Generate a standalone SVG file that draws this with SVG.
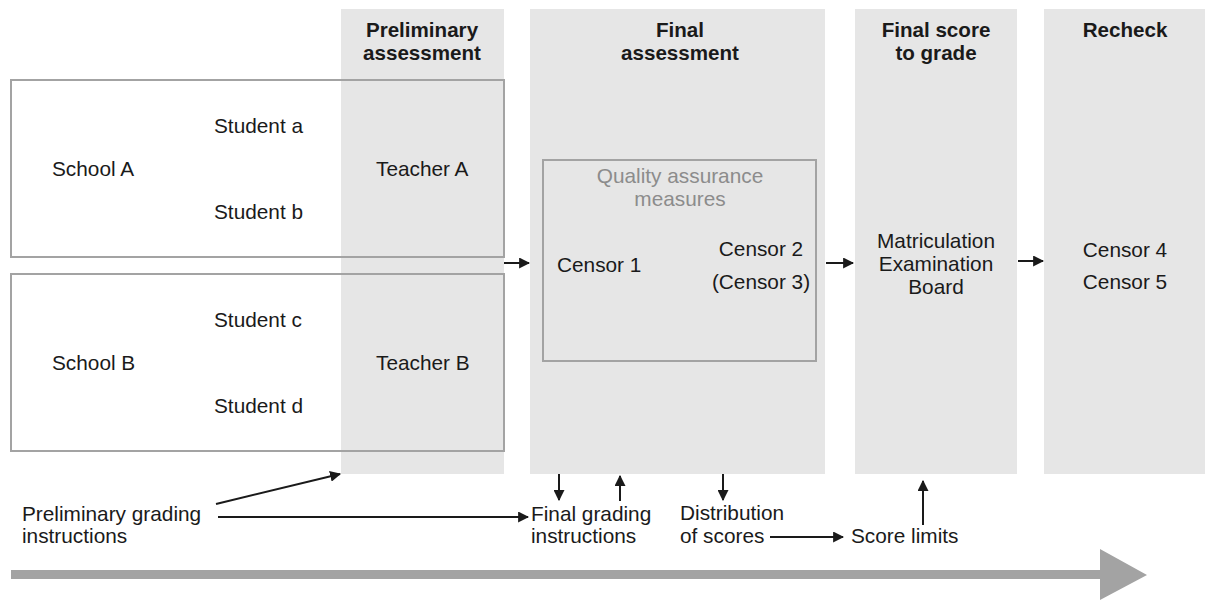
<svg xmlns="http://www.w3.org/2000/svg" width="1205" height="600" viewBox="0 0 1205 600">
<style>
.col{fill:#e6e6e6}
.box{fill:none;stroke:#a3a3a3;stroke-width:2}
text{font-family:"Liberation Sans",Arial,sans-serif;font-size:20.8px;fill:#1a1a1a}
.h{font-weight:bold;text-anchor:middle;font-size:20.6px}
.m{text-anchor:middle}
.q{fill:#8c8c8c}
.c{stroke:#1a1a1a;stroke-width:2;fill:none}
</style>
<defs>
<marker id="ah" viewBox="0 0 10 10" refX="9" refY="5" markerWidth="11" markerHeight="11" markerUnits="userSpaceOnUse" orient="auto">
<path d="M0,0 L10,5 L0,10 z" fill="#1a1a1a"/>
</marker>
</defs>
<rect width="1205" height="600" fill="#fff"/>
<g id="col-preliminary">
<rect class="col" x="341" y="9" width="163" height="465"/>
<text class="h" x="422" y="37">Preliminary</text>
<text class="h" x="422" y="60">assessment</text>
</g>
<g id="col-final">
<rect class="col" x="530" y="9" width="295" height="465"/>
<text class="h" x="680" y="37">Final</text>
<text class="h" x="680" y="60">assessment</text>
</g>
<g id="col-score">
<rect class="col" x="855" y="9" width="162" height="465"/>
<text class="h" x="936" y="37">Final score</text>
<text class="h" x="936" y="60">to grade</text>
<text class="m" x="936" y="248">Matriculation</text>
<text class="m" x="936" y="271">Examination</text>
<text class="m" x="936" y="294">Board</text>
</g>
<g id="col-recheck">
<rect class="col" x="1044" y="9" width="161" height="465"/>
<text class="h" x="1125" y="37">Recheck</text>
<text class="m" x="1125" y="257">Censor 4</text>
<text class="m" x="1125" y="289">Censor 5</text>
</g>
<g id="school-a">
<rect class="box" x="11" y="80" width="493" height="177"/>
<text x="52" y="176">School A</text>
<text x="214" y="133">Student a</text>
<text x="214" y="219">Student b</text>
<text x="376" y="176">Teacher A</text>
</g>
<g id="school-b">
<rect class="box" x="11" y="274" width="493" height="177"/>
<text x="52" y="370">School B</text>
<text x="214" y="327">Student c</text>
<text x="214" y="413">Student d</text>
<text x="376" y="370">Teacher B</text>
</g>
<g id="quality">
<rect class="box" x="543" y="160" width="273" height="201"/>
<text class="m q" x="680" y="183">Quality assurance</text>
<text class="m q" x="680" y="206">measures</text>
<text x="557" y="272">Censor 1</text>
<text class="m" x="761" y="256">Censor 2</text>
<text class="m" x="761" y="289">(Censor 3)</text>
</g>
<g id="prelim-instr">
<text x="22" y="521">Preliminary grading</text>
<text x="22" y="543">instructions</text>
</g>
<g id="final-instr">
<text x="531" y="521">Final grading</text>
<text x="531" y="543">instructions</text>
</g>
<g id="distribution">
<text x="680" y="520">Distribution</text>
<text x="680" y="543">of scores</text>
</g>
<g id="score-limits">
<text x="851" y="543">Score limits</text>
</g>
<g id="connectors">
<line class="c" x1="504" y1="263" x2="529" y2="263" marker-end="url(#ah)"/>
<line class="c" x1="826" y1="263" x2="853" y2="263" marker-end="url(#ah)"/>
<line class="c" x1="1018" y1="261" x2="1043" y2="261" marker-end="url(#ah)"/>
<line class="c" x1="216" y1="504" x2="340" y2="474" marker-end="url(#ah)"/>
<line class="c" x1="218" y1="517" x2="528" y2="517" marker-end="url(#ah)"/>
<line class="c" x1="559" y1="474" x2="559" y2="500" marker-end="url(#ah)"/>
<line class="c" x1="620" y1="501" x2="620" y2="476" marker-end="url(#ah)"/>
<line class="c" x1="723" y1="474" x2="723" y2="500" marker-end="url(#ah)"/>
<line class="c" x1="770" y1="537" x2="843" y2="537" marker-end="url(#ah)"/>
<line class="c" x1="923" y1="525" x2="923" y2="481" marker-end="url(#ah)"/>
<path id="timeline" d="M11,570 L1100,570 L1100,549 L1147,575 L1100,600 L1100,579 L11,579 z" fill="#a3a3a3"/>
</g>
</svg>
